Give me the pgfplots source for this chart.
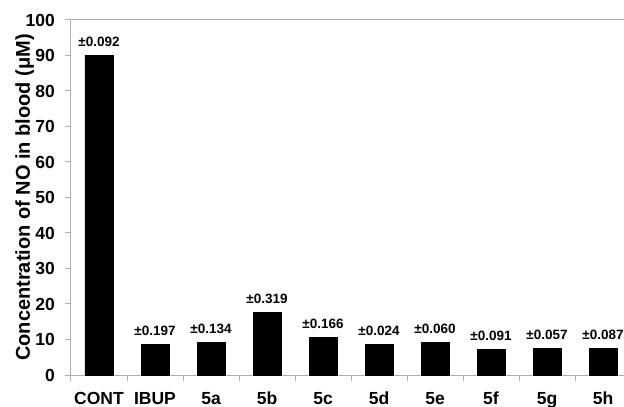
\documentclass[border=0pt]{standalone}
\usepackage{fontspec}
\setmainfont{Liberation Sans}
\usepackage{pgfplots}
\pgfplotsset{compat=1.18}
\usepackage{pgfplotstable}
\usetikzlibrary{calc}
\definecolor{axgray}{RGB}{175,175,175}
\pgfplotstableread{
x val lab
0 90.1 ±0.092
1 8.6 ±0.197
2 9.1 ±0.134
3 17.6 ±0.319
4 10.6 ±0.166
5 8.6 ±0.024
6 9.1 ±0.060
7 7.3 ±0.091
8 7.5 ±0.057
9 7.5 ±0.087
}\datatable
\begin{document}
\begin{tikzpicture}
\useasboundingbox (-71pt,-32pt) rectangle (553pt,375pt);
\begin{axis}[
  scale only axis,
  width=553pt, height=355pt,
  xmin=-0.5, xmax=9.375,
  ymin=0, ymax=100,
  axis x line*=bottom,
  axis y line*=left,
  axis line style={axgray, line width=1pt, -},
  tick align=outside,
  major tick length=6pt,
  tick style={axgray, line width=1pt},
  ytick={0,10,...,100},
  xtick={-0.5,0.5,1.5,2.5,3.5,4.5,5.5,6.5,7.5,8.5},
  xticklabels={},
  extra x ticks={0,1,2,3,4,5,6,7,8,9},
  extra x tick labels={CONT,IBUP,5a,5b,5c,5d,5e,5f,5g,5h},
  extra x tick style={major tick length=0pt, tick style={draw=none}},
  /pgf/number format/assume math mode=true,
  ticklabel style={font=\fontsize{17.5}{17.5}\selectfont\bfseries},
  yticklabel style={anchor=east, inner sep=0pt, xshift=-10pt},
  xticklabel style={anchor=base, inner sep=0pt, yshift=-29pt},
  every axis y label/.style={
    at={($(axis description cs:0,0.5)+(-41pt,0)$)},
    rotate=90, anchor=base,
    font=\fontsize{20}{20}\selectfont\bfseries},
  ylabel={Concentration of NO in blood (μM)},
  clip=false,
]
\addplot[ybar, bar width=28pt, fill=black, draw=black,
  point meta=explicit symbolic,
  nodes near coords,
  every node near coord/.style={anchor=base, inner sep=0pt, yshift=9pt,
    font=\fontsize{13.5}{13.5}\selectfont\bfseries, text=black}]
  table[x=x, y=val, meta=lab] {\datatable};
\draw[axgray, line width=1pt] (rel axis cs:0,1) -- (rel axis cs:1,1);
\end{axis}
\end{tikzpicture}
\end{document}
